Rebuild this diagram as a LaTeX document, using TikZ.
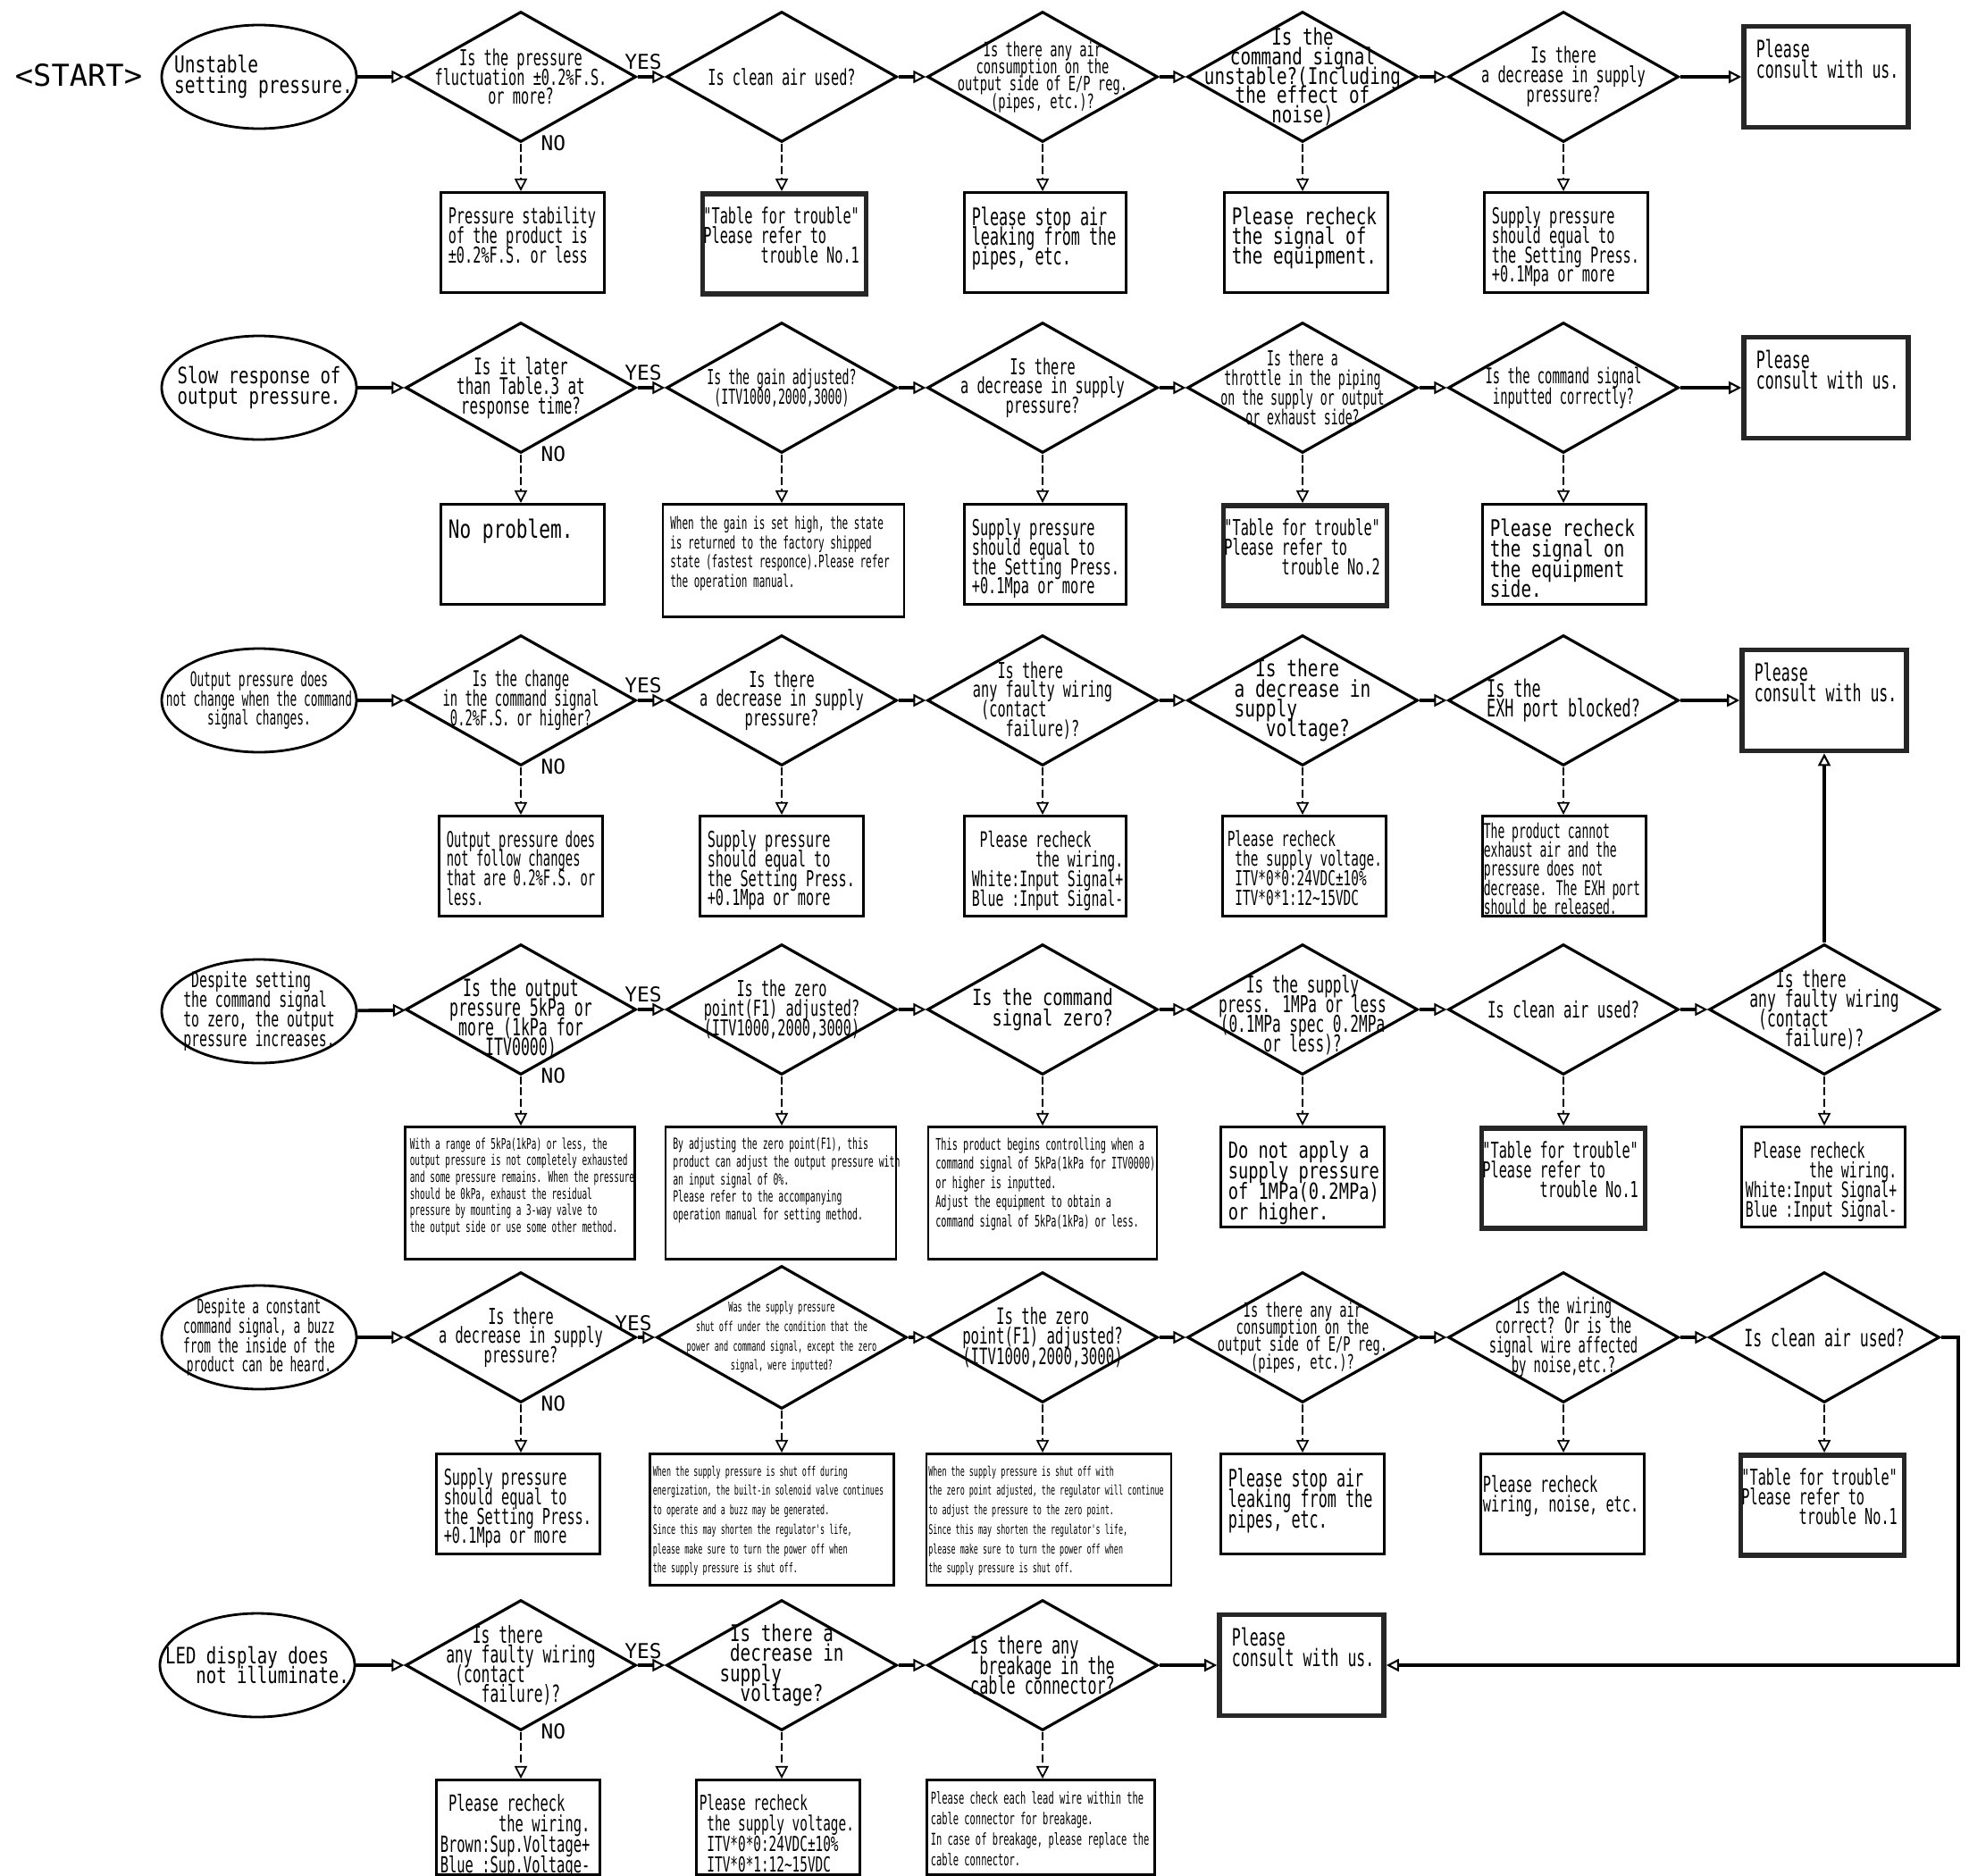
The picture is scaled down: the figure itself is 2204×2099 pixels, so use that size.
\documentclass[tikz,border=0pt]{standalone}
\usepackage{fontspec}
\setmonofont{DejaVu Sans Mono}
\newfontfamily\plotfam[FakeStretch=0.62]{DejaVu Sans Mono}
\newfontfamily\widefam[FakeStretch=0.75]{DejaVu Sans Mono}
\newfontfamily\thinfam[FakeStretch=0.57]{DejaVu Sans Mono}
\usetikzlibrary{%
  arrows.meta,
  positioning,
  shapes.geometric
}
\newcommand{\plotr}[2]{\plotfam\fontsize{#1}{#2}\selectfont\lineskiplimit=-\maxdimen}
\newcommand{\plotw}[2]{\widefam\fontsize{#1}{#2}\selectfont\lineskiplimit=-\maxdimen}
\newcommand{\plotn}[2]{\thinfam\fontsize{#1}{#2}\selectfont\lineskiplimit=-\maxdimen}
\tikzset{
  ques/.style={diamond,draw,line width=0.9pt,minimum width=25.8mm,minimum height=14.6mm,inner sep=0pt},
  cause/.style={ellipse,draw,line width=0.8pt,minimum width=21.8mm,minimum height=11.6mm,inner sep=0pt},
  ans/.style={rectangle,draw,line width=0.8pt,anchor=north,minimum width=18.3mm,minimum height=11.2mm,inner sep=0pt},
  trouble/.style={line width=1.6pt,draw=black!85},
  consult/.style={ans,trouble,anchor=center,minimum width=18.4mm,minimum height=11.3mm},
  txt/.style={inner sep=0pt,align=center,font=\plotr{7}{6.2}},
  btxt/.style={txt,anchor=north west,align=left},
  tag/.style={inner sep=0pt,font=\ttfamily\fontsize{6.5}{7}\selectfont},
  go/.style={-{Triangle[open,length=4pt,width=4pt,line width=0.6pt]},line width=1.1pt},
  drop/.style={-{Triangle[open,length=4pt,width=4pt,line width=0.5pt]},line width=0.5pt,dash pattern=on 2.6pt off 1pt}
}
\begin{document}
\begin{tikzpicture}[x=0.1mm,y=-0.1mm]
  \useasboundingbox (0,0) rectangle (2204,2099);
  \def\ask(#1,#2)#3#4#5{
    \node[ques] (#3) at (#1,#2) {};
    \node[txt,#4] (#3t) at (#3) {#5};
  }
  \def\ans(#1,#2)#3#4#5#6{
    \node[ans,#4] (#3) at (#1,#2) {};
    \node[btxt,#5] (#3t) at ([shift={(9,17)}]#3.north west) {#6};
  }
  \def\supply{Supply pressure\\should equal to\\the Setting Press.\\+0.1Mpa or more}
  \def\table#1{"Table for trouble"\\Please refer to\\\phantom{xxxxxxx}trouble No.#1}
  \def\wiring{\phantom{x}Please recheck\\\phantom{xxxxxxxx}the wiring.\\White:Input Signal+\\Blue :Input Signal-}
  \def\voltage{Please recheck\\\phantom{x}the supply voltage.\\\phantom{x}ITV*0*0:24VDC±10\%\\\phantom{x}ITV*0*1:12\textasciitilde15VDC}
  \def\faulty{\phantom{xxx}Is there\\any faulty wiring\\\phantom{x}(contact\\\phantom{xxxx}failure)?}
  \def\us{Please\\consult with us.}

  \node[font=\ttfamily\fontsize{9.6}{10}\selectfont,inner sep=0pt] (start) at (88,84) {<START>};

  % row 1
  \node[cause] (e1) at (290,86) {};
  \node[txt,align=left,font=\plotw{7.4}{6.5}] (e1t) at ([xshift=0.5mm]e1) {Unstable\\setting pressure.};
  \ask(583,86){d11}{}{Is the pressure\\fluctuation ±0.2\%F.S.\\or more?}
  \ask(875,86){d12}{}{Is clean air used?}
  \ask(1167,86){d13}{font=\plotr{6.3}{5.5}}{Is there any air\\consumption on the\\output side of E/P reg.\\(pipes, etc.)?}
  \ask(1458,86){d14}{font=\plotw{7.3}{6.2}}{Is the\\command signal\\unstable?(Including\\the effect of\\noise)}
  \ask(1750,86){d15}{}{Is there\\a decrease in supply\\pressure?}
  \node[consult] (k1) at (2044,86) {};
  \node[btxt,font=\plotr{7.6}{6.5}] (k1t) at ([shift={(16,17)}]k1.north west) {\us};
  \ans(585,214){b11}{}{}{Pressure stability\\of the product is\\±0.2\%F.S. or less}
  \ans(878,214){b12}{trouble}{xshift=-0.6mm}{\table{1}}
  \ans(1170,214){b13}{minimum width=18.1mm}{font=\plotr{7.7}{6.3}}{Please stop air\\leaking from the\\pipes, etc.}
  \ans(1462,214){b14}{}{font=\plotw{7.3}{6.3}}{Please recheck\\the signal of\\the equipment.}
  \ans(1753,214){b15}{}{}{\supply}

  % row 2
  \node[cause] (e2) at (290,434) {};
  \node[txt,align=left,font=\plotw{7.2}{6.5}] (e2t) at (e2) {Slow response of\\output pressure.};
  \ask(583,434){d21}{font=\plotr{7.3}{6.3}}{Is it later\\than Table.3 at\\response time?}
  \ask(875,434){d22}{font=\plotn{6.6}{6.3}}{Is the gain adjusted?\\(ITV1000,2000,3000)}
  \ask(1167,434){d23}{}{Is there\\a decrease in supply\\pressure?}
  \ask(1458,434){d24}{font=\plotn{6.6}{6.2}}{Is there a\\throttle in the piping\\on the supply or output\\or exhaust side?}
  \ask(1750,434){d25}{font=\plotn{6.9}{6.5}}{Is the command signal\\inputted correctly?}
  \node[consult] (k2) at (2044,434) {};
  \node[btxt,font=\plotr{7.6}{6.5}] (k2t) at ([shift={(16,17)}]k2.north west) {\us};
  \ans(585,563){b21}{}{font=\plotw{8}{7}}{No problem.}
  \ans(877,563){b22}{minimum width=27mm,minimum height=12.6mm}{font=\plotn{5.5}{6.2},yshift=0.3mm}{When the gain is set high, the state\\is returned to the factory shipped\\state (fastest responce).Please refer\\the operation manual.}
  \ans(1170,563){b23}{minimum width=18.1mm}{}{\supply}
  \ans(1461,563){b24}{trouble}{xshift=-0.6mm}{\table{2}}
  \ans(1751,563){b25}{}{font=\plotw{7.3}{6.5}}{Please recheck\\the signal on\\the equipment\\side.}

  % row 3
  \node[cause] (e3) at (290,784) {};
  \node[txt,font=\plotn{6.4}{6.2}] (e3t) at (e3) {Output pressure does\\not change when the command\\signal changes.};
  \ask(583,784){d31}{font=\plotn{6.9}{6.3}}{Is the change\\in the command signal\\0.2\%F.S. or higher?}
  \ask(875,784){d32}{}{Is there\\a decrease in supply\\pressure?}
  \ask(1167,784){d33}{align=left}{\faulty}
  \ask(1458,784){d34}{align=left,font=\plotw{7.4}{6.3}}{\phantom{xx}Is there\\a decrease in\\supply\\\phantom{xxx}voltage?}
  \ask(1750,784){d35}{align=left,font=\plotr{7.7}{6.5}}{Is the\\EXH port blocked?}
  \node[consult] (k3) at (2042,784) {};
  \node[btxt,font=\plotr{7.6}{6.5}] (k3t) at ([shift={(16,17)}]k3.north west) {\us};
  \ans(583,912){b31}{}{font=\plotn{6.9}{6.2}}{Output pressure does\\not follow changes\\that are 0.2\%F.S. or\\less.}
  \ans(875,912){b32}{}{}{\supply}
  \ans(1170,912){b33}{minimum width=18.1mm}{font=\plotr{6.8}{6.3}}{\wiring}
  \ans(1460,912){b34}{}{font=\plotr{6.6}{6.3},xshift=-0.3mm}{\voltage}
  \ans(1751,912){b35}{}{font=\plotn{6.5}{6.1},xshift=-0.7mm,yshift=0.9mm}{The product cannot\\exhaust air and the\\pressure does not\\decrease. The EXH port\\should be released.}

  % row 4
  \node[cause] (e4) at (290,1132) {};
  \node[txt,align=left,font=\plotr{6.8}{6.3}] (e4t) at (e4) {\phantom{x}Despite setting\\the command signal\\to zero, the output\\pressure increases.};
  \ask(583,1130){d41}{font=\plotr{7.6}{6.3},yshift=-1mm}{Is the output\\pressure 5kPa or\\more (1kPa for\\ITV0000)}
  \ask(875,1130){d42}{}{Is the zero\\point(F1) adjusted?\\(ITV1000,2000,3000)}
  \ask(1167,1130){d43}{align=left,font=\plotw{7.1}{6.5}}{Is the command\\\phantom{xx}signal zero?}
  \ask(1458,1130){d44}{font=\plotr{7.4}{6.3},yshift=-0.6mm}{Is the supply\\press. 1MPa or less\\(0.1MPa spec 0.2MPa\\or less)?}
  \ask(1750,1130){d45}{font=\plotr{7.2}{6.3}}{Is clean air used?}
  \ask(2042,1130){d46}{align=left,font=\plotr{7.5}{6.3}}{\faulty}
  \ans(582,1260){b41}{minimum width=25.7mm,minimum height=14.8mm}{font=\plotn{4.7}{5.3},xshift=-0.3mm,yshift=0.4mm}{With a range of 5kPa(1kPa) or less, the\\output pressure is not completely exhausted\\and some pressure remains. When the pressure\\should be 0kPa, exhaust the residual\\pressure by mounting a 3-way valve to\\the output side or use some other method.}
  \ans(874,1260){b42}{minimum width=25.8mm,minimum height=14.8mm}{font=\plotn{4.9}{5.6},yshift=0.4mm}{By adjusting the zero point(F1), this\\product can adjust the output pressure with\\an input signal of 0\%.\\Please refer to the accompanying\\operation manual for setting method.}
  \ans(1167,1260){b43}{minimum width=25.6mm,minimum height=14.8mm}{font=\plotn{5.1}{6.1},yshift=0.4mm}{This product begins controlling when a\\command signal of 5kPa(1kPa for ITV0000)\\or higher is inputted.\\Adjust the equipment to obtain a\\command signal of 5kPa(1kPa) or less.}
  \ans(1458,1260){b44}{}{font=\plotw{7.1}{6.5}}{Do not apply a\\supply pressure\\of 1MPa(0.2MPa)\\or higher.}
  \ans(1750,1260){b45}{trouble}{xshift=-0.6mm}{\table{1}}
  \ans(2041,1260){b46}{}{font=\plotr{6.8}{6.3},xshift=-0.4mm}{\wiring}

  % row 5
  \node[cause] (e5) at (290,1497) {};
  \node[txt,font=\plotn{6.4}{6.2}] (e5t) at (e5) {Despite a constant\\command signal, a buzz\\from the inside of the\\product can be heard.};
  \ask(583,1497){d51}{}{Is there\\a decrease in supply\\pressure?}
  \node[ques,minimum width=28mm,minimum height=16mm] (d52) at (875,1497) {};
  \node[txt,font=\plotn{4.3}{6.2}] (d52t) at (d52) {Was the supply pressure\\shut off under the condition that the\\power and command signal, except the zero\\signal, were inputted?};
  \ask(1167,1497){d53}{font=\plotr{7.2}{6.3}}{Is the zero\\point(F1) adjusted?\\(ITV1000,2000,3000)}
  \ask(1458,1497){d54}{font=\plotr{6.3}{5.5}}{Is there any air\\consumption on the\\output side of E/P reg.\\(pipes, etc.)?}
  \ask(1750,1497){d55}{font=\plotn{6.9}{6.3}}{Is the wiring\\correct? Or is the\\signal wire affected\\by noise,etc.?}
  \ask(2042,1497){d56}{font=\plotr{7.6}{6.3}}{Is clean air used?}
  \ans(580,1626){b51}{}{}{\supply}
  \ans(864,1626){b52}{minimum width=27.3mm,minimum height=14.7mm}{font=\plotn{4.2}{6.2},xshift=-0.5mm,yshift=0.3mm}{When the supply pressure is shut off during\\energization, the built-in solenoid valve continues\\to operate and a buzz may be generated.\\Since this may shorten the regulator's life,\\please make sure to turn the power off when\\the supply pressure is shut off.}
  \ans(1174,1626){b53}{minimum width=27.4mm,minimum height=14.7mm}{font=\plotn{4.2}{6.2},xshift=-0.6mm,yshift=0.3mm}{When the supply pressure is shut off with\\the zero point adjusted, the regulator will continue\\to adjust the pressure to the zero point.\\Since this may shorten the regulator's life,\\please make sure to turn the power off when\\the supply pressure is shut off.}
  \ans(1458,1626){b54}{}{font=\plotr{7.7}{6.5}}{Please stop air\\leaking from the\\pipes, etc.}
  \ans(1749,1626){b55}{}{xshift=-0.6mm,yshift=-0.8mm}{Please recheck\\wiring, noise, etc.}
  \ans(2040,1626){b56}{trouble}{xshift=-0.6mm}{\table{1}}
  \coordinate (bend) at (2192,1497);

  % row 6
  \node[cause] (e6) at (288,1864) {};
  \node[txt,align=left,font=\plotw{7.2}{6.5}] (e6t) at (e6) {LED display does\\\phantom{xxx}not illuminate.};
  \ask(583,1864){d61}{align=left,font=\plotr{7.5}{6.3}}{\faulty}
  \ask(875,1864){d62}{align=left,font=\plotw{7.3}{6.3}}{\phantom{x}Is there a\\\phantom{x}decrease in\\supply\\\phantom{xx}voltage?}
  \ask(1167,1864){d63}{align=left,font=\plotr{7.7}{6.3}}{Is there any\\\phantom{x}breakage in the\\cable connector?}
  \node[consult] (k6) at (1457,1864) {};
  \node[btxt,font=\plotr{7.6}{6.5}] (k6t) at ([shift={(16,17)}]k6.north west) {\us};
  \ans(580,1991){b61}{minimum height=10.6mm}{font=\plotr{7.1}{6.5},xshift=-0.4mm}{\phantom{x}Please recheck\\\phantom{xxxxxxx}the wiring.\\Brown:Sup.Voltage+\\Blue :Sup.Voltage-}
  \ans(871,1991){b62}{minimum height=10.6mm}{font=\plotr{6.6}{6.5},xshift=-0.5mm}{\voltage}
  \ans(1165,1991){b63}{minimum width=25.5mm,minimum height=10.6mm}{font=\plotn{5.2}{6.5},xshift=-0.4mm,yshift=0.3mm}{Please check each lead wire within the\\cable connector for breakage.\\In case of breakage, please replace the\\cable connector.}

  % YES / NO
  \foreach \r in {1,...,6} {
    \node[tag,right=2.2mm of d\r1.south] (no\r) {NO};
    \node[tag,above left=0.7mm and 0.3mm of d\r2.west] (yes\r) {YES};
  }

  % connectors
  \foreach \a/\b in {e1/d11,d11/d12,d12/d13,d13/d14,d14/d15,d15/k1,
                     e2/d21,d21/d22,d22/d23,d23/d24,d24/d25,d25/k2,
                     e3/d31,d31/d32,d32/d33,d33/d34,d34/d35,d35/k3,
                     e4/d41,d41/d42,d42/d43,d43/d44,d44/d45,d45/d46,d46/k3,
                     e5/d51,d51/d52,d52/d53,d53/d54,d54/d55,d55/d56,
                     e6/d61,d61/d62,d62/d63,d63/k6} {
    \draw[go] (\a) -- (\b);
  }
  \draw[go] (d56) -- (bend) |- (k6);
  \foreach \q in {11,12,13,14,15,21,22,23,24,25,31,32,33,34,35,
                  41,42,43,44,45,46,51,52,53,54,55,56,61,62,63} {
    \draw[drop] (d\q.south) -- (d\q.south |- b\q.north);
  }
\end{tikzpicture}
\end{document}
